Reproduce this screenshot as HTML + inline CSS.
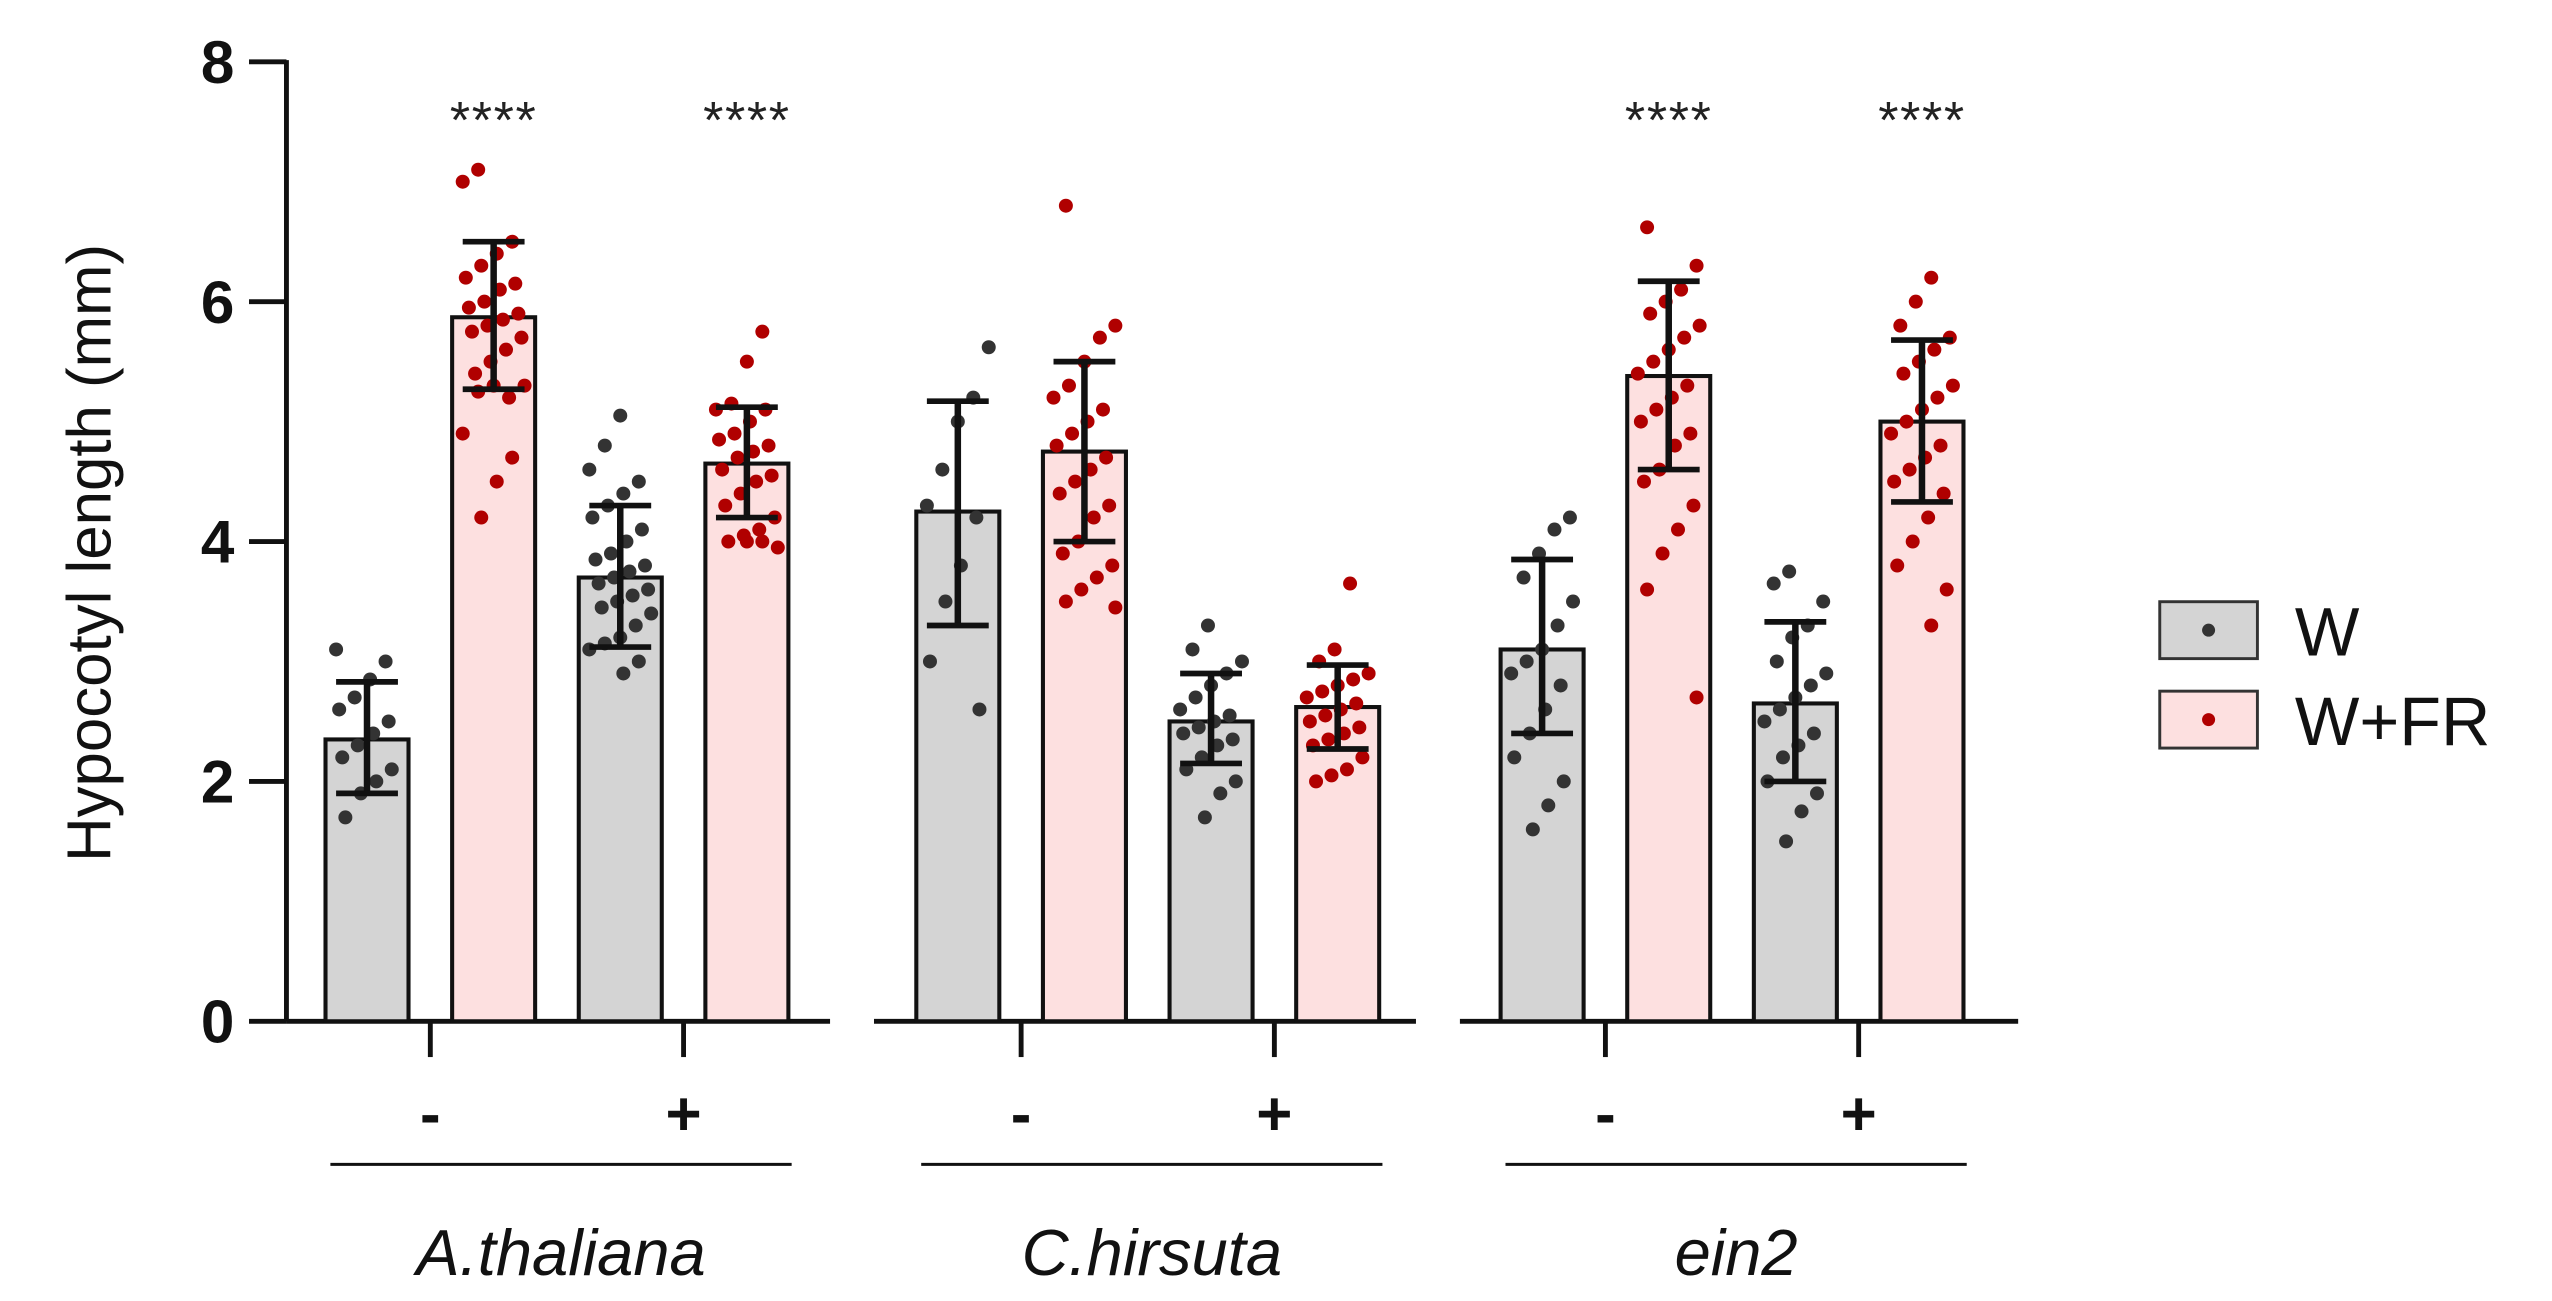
<!DOCTYPE html>
<html><head><meta charset="utf-8"><style>
html,body{margin:0;padding:0;background:#fff;}
svg{display:block;font-family:"Liberation Sans",Arial,sans-serif;}
</style></head><body>
<svg id="chart" width="2552" height="1301" viewBox="0 0 1568 800" preserveAspectRatio="none" xmlns="http://www.w3.org/2000/svg">
<g id="axes"></g><g id="bars"></g><g id="dots"></g><g id="errs"></g><g id="labels"></g>
</svg>
<script>
const groups=["A.thaliana","C.hirsuta","ein2"];
const treatments=["-","+"];
const conditions=["W","W+FR"];
const means=[2.35,5.87,3.7,4.65,4.25,4.75,2.5,2.62,3.1,5.38,2.65,5.0];
const sdLow=[1.9,5.27,3.12,4.2,3.3,4.0,2.15,2.27,2.4,4.6,2.0,4.33];
const sdHigh=[2.83,6.5,4.3,5.12,5.17,5.5,2.9,2.97,3.85,6.17,3.33,5.68];
const stars=["","****","","****","","","","","","****","","****"];
const yTicks=[0,2,4,6,8];
const points=[
[3.1,3.0,2.85,2.7,2.6,2.5,2.4,2.3,2.2,2.1,2.0,1.9,1.7],
[7.1,7.0,6.5,6.4,6.3,6.2,6.15,6.1,6.0,5.95,5.9,5.85,5.8,5.75,5.7,5.6,5.5,5.4,5.3,5.2,5.3,5.25,4.9,4.7,4.5,4.2],
[5.05,4.8,4.6,4.5,4.4,4.3,4.2,4.1,4.0,3.9,3.85,3.8,3.75,3.7,3.65,3.6,3.55,3.5,3.45,3.4,3.3,3.2,3.15,3.1,3.0,2.9],
[5.75,5.5,5.15,5.1,5.1,5.0,4.9,4.85,4.8,4.75,4.7,4.6,4.55,4.5,4.4,4.3,4.2,4.1,4.05,4.0,3.95,4.0,4.0],
[5.62,5.2,5.0,4.6,4.3,4.2,3.8,3.5,3.0,2.6],
[6.8,5.8,5.7,5.5,5.3,5.2,5.1,5.0,4.9,4.8,4.7,4.6,4.5,4.4,4.3,4.2,4.0,3.9,3.8,3.7,3.6,3.5,3.45],
[3.3,3.1,3.0,2.9,2.8,2.7,2.6,2.55,2.5,2.45,2.4,2.35,2.3,2.2,2.1,2.0,1.9,1.7],
[3.65,3.1,3.0,2.9,2.85,2.8,2.75,2.7,2.65,2.6,2.55,2.5,2.45,2.4,2.35,2.3,2.2,2.1,2.05,2.0],
[4.2,4.1,3.9,3.7,3.5,3.3,3.1,3.0,2.9,2.8,2.6,2.4,2.2,2.0,1.8,1.6],
[6.62,6.3,6.1,6.0,5.9,5.8,5.7,5.6,5.5,5.4,5.3,5.2,5.1,5.0,4.9,4.8,4.6,4.5,4.3,4.1,3.9,3.6,2.7],
[3.75,3.65,3.5,3.3,3.2,3.0,2.9,2.8,2.7,2.6,2.5,2.4,2.3,2.2,2.0,1.9,1.75,1.5],
[6.2,6.0,5.8,5.7,5.6,5.5,5.4,5.3,5.2,5.1,5.0,4.9,4.8,4.7,4.6,4.5,4.4,4.2,4.0,3.8,3.6,3.3]
];
const NS="http://www.w3.org/2000/svg";
const y0=628,y8=38;
function y(v){return y0-(y0-y8)*v/8;}
const groupStart=[200,563,922],barStep=77.8,barW=51;
function barX(i){const g=Math.floor(i/4),k=i%4;return groupStart[g]+k*barStep;}
function mk(tag,attrs,parent,text){const e=document.createElementNS(NS,tag);for(const k in attrs)e.setAttribute(k,attrs[k]);if(text!==undefined)e.textContent=text;document.getElementById(parent).appendChild(e);return e;}
let e=mk('line',{x1:176,y1:y(8)-1,x2:176,y2:y0,stroke:'#111','stroke-width':3},'axes');

yTicks.forEach(v=>{mk('line',{x1:153,x2:176,y1:y(v),y2:y(v),stroke:'#111','stroke-width':3},'axes');
e=mk('text',{x:144,y:y(v)+13,'text-anchor':'end','font-size':37,'font-weight':'bold',fill:'#111'},'labels',String(v));
});
const segs=[[176,510],[537,870],[897,1240]];
segs.forEach((s,g)=>{e=mk('line',{x1:s[0],x2:s[1],y1:y0,y2:y0,stroke:'#111','stroke-width':3},'axes');

treatments.forEach((t,k)=>{const cx=(barX(g*4+k*2)+barX(g*4+k*2+1)+barW)/2;
mk('line',{x1:cx,x2:cx,y1:y0,y2:y0+22,stroke:'#111','stroke-width':3},'axes');
e=mk('text',{x:cx,y:y0+70,'text-anchor':'middle','font-size':38,'font-weight':'bold',fill:'#111'},'labels',t);
});
const l=barX(g*4)+3,r=barX(g*4+3)+barW+2;
mk('line',{x1:l,x2:r,y1:716,y2:716,stroke:'#111','stroke-width':1.8},'axes');
e=mk('text',{x:(l+r)/2,y:784,'text-anchor':'middle','font-size':40,'font-style':'italic',fill:'#111'},'labels',groups[g]);
});
e=mk('text',{x:0,y:0,transform:'translate(68,340) rotate(-90)','text-anchor':'middle','font-size':38,fill:'#111'},'labels','Hypocotyl length (mm)');

means.forEach((m,i)=>{const red=i%2===1,x=barX(i),cx=x+barW/2;
e=mk('rect',{x:x,y:y(m),width:barW,height:y0-y(m),fill:red?'#fde0e0':'#d4d4d4',stroke:'#111','stroke-width':2.5},'bars');

points[i].forEach((v,j)=>{const off=(((j*37+i*5)%21)-10)*1.9;
e=mk('circle',{cx:cx+off,cy:y(v),r:4.3,fill:red?'#b00000':'#333'},'dots');
});
mk('line',{x1:cx,x2:cx,y1:y(sdHigh[i]),y2:y(sdLow[i]),stroke:'#111','stroke-width':4},'errs');
mk('line',{x1:cx-19,x2:cx+19,y1:y(sdHigh[i]),y2:y(sdHigh[i]),stroke:'#111','stroke-width':3.5},'errs');
mk('line',{x1:cx-19,x2:cx+19,y1:y(sdLow[i]),y2:y(sdLow[i]),stroke:'#111','stroke-width':3.5},'errs');
if(stars[i]){e=mk('text',{x:cx,y:85,'text-anchor':'middle','font-size':32,fill:'#222','letter-spacing':'1'},'labels',stars[i]);
}
});
conditions.forEach((c,k)=>{const yy=370+k*55;
e=mk('rect',{x:1327,y:yy,width:60,height:35,fill:k?'#fde0e0':'#d4d4d4',stroke:'#333','stroke-width':1.8},'labels');

mk('circle',{cx:1357,cy:yy+17.5,r:4,fill:k?'#b00000':'#333'},'labels');
e=mk('text',{x:1410,y:yy+33,'font-size':42,fill:'#111'},'labels',c);
});
</script>
</body></html>
